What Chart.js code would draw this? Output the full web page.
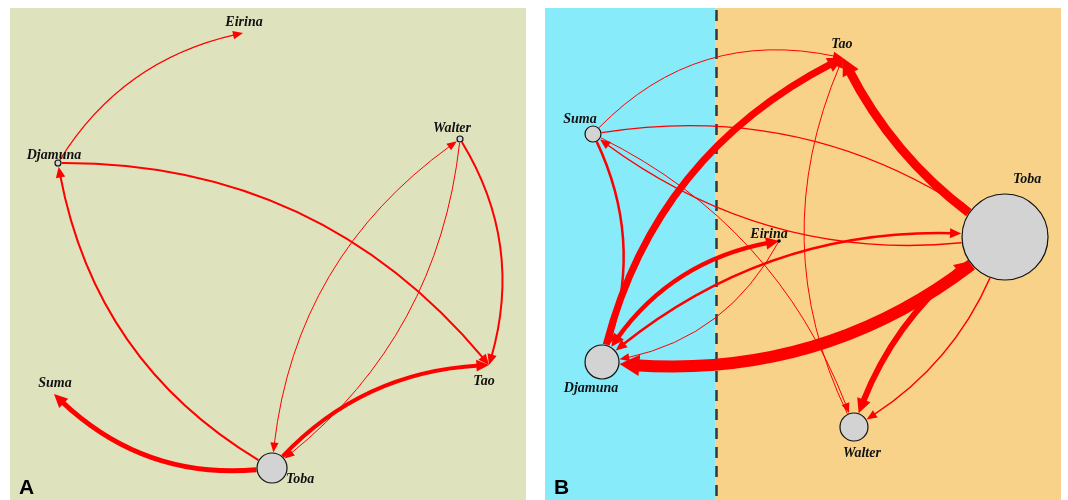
<!DOCTYPE html>
<html>
<head>
<meta charset="utf-8">
<title>Advice networks</title>
<script src="https://cdn.jsdelivr.net/npm/chart.js@4.4.1/dist/chart.umd.min.js"></script>
<style>
  html, body { margin: 0; padding: 0; background: #ffffff; width: 1068px; height: 500px; overflow: hidden; }
  canvas { position: absolute; display: block; }
  #netA { left: 10px; top: 8px; }
  #netB { left: 545px; top: 8px; }
</style>
</head>
<body>
<canvas id="netA" width="516" height="492"></canvas>
<canvas id="netB" width="516" height="492"></canvas>
<script>
// ---------- Network A ----------
const namesA = ['Eirina', 'Djamuna', 'Walter', 'Tao', 'Suma', 'Toba'];
const xA = [45.16, 9.30, 87.21, 92.83, 8.53, 50.78];     // layout x (0-100)
const yA = [5.08, 31.50, 26.63, 72.56, 78.46, 93.50];     // layout y (0-100, top to bottom)
const sizeA = [0, 3, 3, 0, 0, 15];                         // node size

const fromA   = ['Djamuna', 'Djamuna', 'Toba', 'Toba', 'Toba', 'Walter', 'Toba', 'Walter'];
const toA     = ['Eirina',  'Tao',     'Djamuna', 'Suma', 'Tao', 'Tao',  'Walter', 'Toba'];
const weightA = [1.2, 2, 2, 5, 4, 2, 1, 1];                // tie strength

// ---------- Network B ----------
const namesB = ['Tao', 'Suma', 'Toba', 'Eirina', 'Djamuna', 'Walter'];
const xB = [57.75, 9.30, 89.15, 45.35, 11.05, 59.88];
const yB = [10.16, 25.61, 46.54, 47.36, 71.95, 85.16];
const sizeB = [0, 8, 43, 1.2, 17, 14];

const fromB   = ['Djamuna', 'Toba', 'Toba',    'Suma',    'Djamuna', 'Eirina',  'Toba',    'Suma', 'Toba', 'Suma', 'Suma',   'Walter', 'Walter', 'Toba'];
const toB     = ['Tao',     'Tao',  'Djamuna', 'Djamuna', 'Eirina',  'Djamuna', 'Djamuna', 'Toba', 'Suma', 'Tao',  'Walter', 'Tao',    'Toba',   'Walter'];
const weightB = [7, 9, 12, 2.5, 4.5, 1, 2.5, 1.2, 1.5, 1, 1, 1, 6, 1.5];

const groupBoundaryB = 33.1;   // layout x separating the two groups in B

// ---------- drawing styles ----------
const styleA = {
  background: [{ from: 0, to: 100, color: '#dee2bd' }],
  divider: null,
  letter: 'A',
  bends: [0.11, 0.12, 0.12, 0.125, 0.11, 0.115, 0.12, 0.11],
  bothHeads: [false, false, false, false, false, false, true, false],
  labelOffsets: {
    Eirina: [1, -11], Djamuna: [-4, -8], Walter: [-8, -11],
    Tao: [-5, 16], Suma: [1, -11], Toba: [28, 11]
  }
};
const styleB = {
  background: [
    { from: 0, to: groupBoundaryB, color: '#87ebfa' },
    { from: groupBoundaryB, to: 100, color: '#f8d289' }
  ],
  divider: groupBoundaryB,
  letter: 'B',
  bends: [0.12, 0.075, 0.113, 0.114, 0.12, 0.13, -0.11, 0.11, 0.11, 0.145, 0.105, 0.12, 0.095, 0.10],
  bothHeads: [false, false, false, false, true, false, true, false, false, false, false, false, true, false],
  labelOffsets: {
    Tao: [-1, -14], Suma: [-13, -15], Toba: [22, -58],
    Eirina: [-10, -7], Djamuna: [-11, 26], Walter: [8, 26]
  }
};

// ---------- curve helpers ----------
function bez(p0, c, p1, t) {
  const u = 1 - t;
  return { x: u * u * p0.x + 2 * u * t * c.x + t * t * p1.x,
           y: u * u * p0.y + 2 * u * t * c.y + t * t * p1.y };
}
function blossom(p0, c, p1, a, b) {
  const w0 = (1 - a) * (1 - b), w1 = (1 - a) * b + a * (1 - b), w2 = a * b;
  return { x: w0 * p0.x + w1 * c.x + w2 * p1.x, y: w0 * p0.y + w1 * c.y + w2 * p1.y };
}
function dist(a, b) { return Math.hypot(a.x - b.x, a.y - b.y); }
// first t (from tStart moving forward) whose point is at least d away from ref
function tForward(p0, c, p1, ref, d, tStart, tLimit) {
  const N = 600;
  for (let i = 0; i <= N; i++) {
    const t = tStart + (tLimit - tStart) * i / N;
    if (dist(bez(p0, c, p1, t), ref) >= d) return t;
  }
  return tLimit;
}
// last t (from tStart moving backward) whose point is at least d away from ref
function tBackward(p0, c, p1, ref, d, tStart, tLimit) {
  const N = 600;
  for (let i = 0; i <= N; i++) {
    const t = tStart - (tStart - tLimit) * i / N;
    if (dist(bez(p0, c, p1, t), ref) >= d) return t;
  }
  return tLimit;
}
function drawHead(ctx, tip, from, len, half) {
  const L = dist(tip, from) || 1;
  const dx = (tip.x - from.x) / L, dy = (tip.y - from.y) / L;
  const bx = tip.x - dx * len, by = tip.y - dy * len;
  ctx.beginPath();
  ctx.moveTo(tip.x, tip.y);
  ctx.lineTo(bx - dy * half, by + dx * half);
  ctx.lineTo(bx + dy * half, by - dx * half);
  ctx.closePath();
  ctx.fill();
}
function drawEdge(ctx, p0, p1, r0, r1, w, bend, both) {
  const L = dist(p0, p1);
  const dx = (p1.x - p0.x) / L, dy = (p1.y - p0.y) / L;
  const nx = dy, ny = -dx;
  const c = { x: (p0.x + p1.x) / 2 + nx * 2 * bend * L, y: (p0.y + p1.y) / 2 + ny * 2 * bend * L };
  const t0 = tForward(p0, c, p1, p0, r0, 0, 0.5);
  const t1 = tBackward(p0, c, p1, p1, r1, 1, 0.5);
  const tipEnd = bez(p0, c, p1, t1), tipStart = bez(p0, c, p1, t0);
  const hl = 9 + 0.9 * w, hw = 3.5 + 0.6 * w;
  const tE = tBackward(p0, c, p1, tipEnd, hl * 0.75, t1, t0);
  const tS = both ? tForward(p0, c, p1, tipStart, hl * 0.75, t0, t1) : t0;
  ctx.strokeStyle = '#ff0000';
  ctx.fillStyle = '#ff0000';
  ctx.lineWidth = w;
  ctx.lineCap = 'butt';
  const a = bez(p0, c, p1, tS), b = bez(p0, c, p1, tE), cc = blossom(p0, c, p1, tS, tE);
  ctx.beginPath();
  ctx.moveTo(a.x, a.y);
  ctx.quadraticCurveTo(cc.x, cc.y, b.x, b.y);
  ctx.stroke();
  const baseE = bez(p0, c, p1, tBackward(p0, c, p1, tipEnd, hl, t1, t0));
  drawHead(ctx, tipEnd, baseE, hl, hw);
  if (both) {
    const baseS = bez(p0, c, p1, tForward(p0, c, p1, tipStart, hl, t0, t1));
    drawHead(ctx, tipStart, baseS, hl, hw);
  }
}

// ---------- plugin: panel background, ties, labels ----------
function networkPlugin(names, xs, ys, sizes, froms, tos, weights, st) {
  return {
    id: 'network',
    beforeDraw(chart) {
      const { ctx, chartArea: ca, scales } = chart;
      ctx.save();
      st.background.forEach(bg => {
        const x0 = scales.x.getPixelForValue(bg.from), x1 = scales.x.getPixelForValue(bg.to);
        ctx.fillStyle = bg.color;
        ctx.fillRect(x0, ca.top, x1 - x0, ca.bottom - ca.top);
      });
      if (st.divider !== null) {
        const xd = Math.round(scales.x.getPixelForValue(st.divider)) + 0.5;
        ctx.strokeStyle = '#2e393d';
        ctx.lineWidth = 2.5;
        ctx.setLineDash([11, 8]);
        ctx.beginPath();
        ctx.moveTo(xd, ca.top + 2);
        ctx.lineTo(xd, ca.bottom);
        ctx.stroke();
        ctx.setLineDash([]);
      }
      ctx.restore();
    },
    beforeDatasetsDraw(chart) {
      const { ctx, scales } = chart;
      const pos = name => {
        const i = names.indexOf(name);
        return { p: { x: scales.x.getPixelForValue(xs[i]), y: scales.y.getPixelForValue(ys[i]) },
                 r: sizes[i] > 2 ? sizes[i] + 0.6 : 0 };
      };
      ctx.save();
      froms.forEach((f, k) => {
        const a = pos(f), b = pos(tos[k]);
        drawEdge(ctx, a.p, b.p, a.r, b.r, weights[k], st.bends[k], st.bothHeads[k]);
      });
      ctx.restore();
    },
    afterDatasetsDraw(chart) {
      const { ctx, scales, chartArea: ca } = chart;
      ctx.save();
      ctx.fillStyle = '#111111';
      ctx.font = 'italic bold 14px "Liberation Serif", "DejaVu Serif", serif';
      ctx.textAlign = 'center';
      ctx.textBaseline = 'middle';
      names.forEach((n, i) => {
        const off = st.labelOffsets[n];
        ctx.fillText(n, scales.x.getPixelForValue(xs[i]) + off[0], scales.y.getPixelForValue(ys[i]) + off[1]);
      });
      ctx.font = 'bold 21px "Liberation Sans", Arial, sans-serif';
      ctx.textAlign = 'left';
      ctx.textBaseline = 'alphabetic';
      ctx.fillStyle = '#000000';
      ctx.fillText(st.letter, ca.left + 9, ca.bottom - 6);
      ctx.restore();
    }
  };
}

function buildNetwork(id, names, xs, ys, sizes, froms, tos, weights, st) {
  const points = names.map((n, i) => ({ x: xs[i], y: ys[i], r: sizes[i] }));
  return new Chart(document.getElementById(id), {
    type: 'bubble',
    data: {
      datasets: [{
        label: 'nodes',
        data: points,
        backgroundColor: c => (c.raw && c.raw.r < 2) ? '#111111' : '#d3d3d3',
        borderColor: '#111111',
        borderWidth: 1.2,
        hoverRadius: 0,
        hoverBorderWidth: 1.2
      }]
    },
    options: {
      responsive: false,
      animation: false,
      events: [],
      layout: { padding: 0, autoPadding: false },
      scales: {
        x: { type: 'linear', min: 0, max: 100, display: false },
        y: { type: 'linear', min: 0, max: 100, reverse: true, display: false }
      },
      plugins: { legend: { display: false }, tooltip: { enabled: false } }
    },
    plugins: [networkPlugin(names, xs, ys, sizes, froms, tos, weights, st)]
  });
}

buildNetwork('netA', namesA, xA, yA, sizeA, fromA, toA, weightA, styleA);
buildNetwork('netB', namesB, xB, yB, sizeB, fromB, toB, weightB, styleB);
</script>
</body>
</html>
